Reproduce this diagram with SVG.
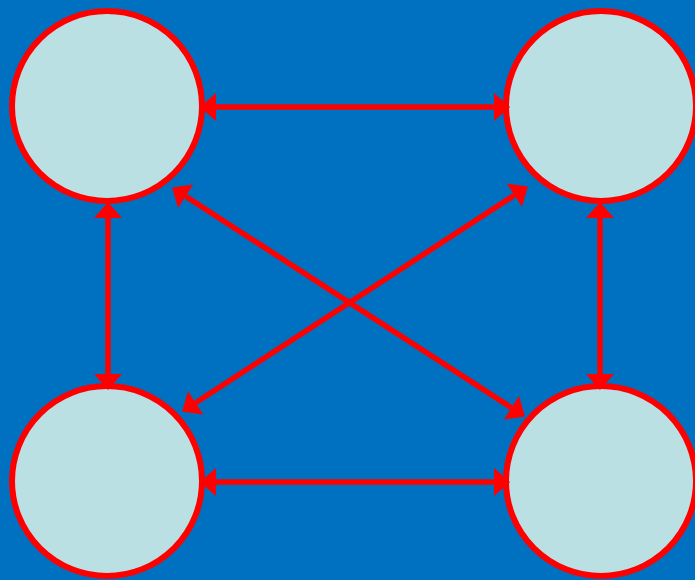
<svg xmlns="http://www.w3.org/2000/svg" width="695" height="580" viewBox="0 0 695 580">
<style>
.node{fill:#BAE0E3;stroke:#FF0000;stroke-width:6}
.conn{stroke:#FF0000;stroke-width:5.5;fill:none;marker-start:url(#ah);marker-end:url(#ah)}
</style>
<defs>
<marker id="ah" markerUnits="userSpaceOnUse" markerWidth="30" markerHeight="30" viewBox="0 -14 16 28" refX="0" refY="0" orient="auto-start-reverse">
<path d="M0,-13 L15,0 L0,13 z" fill="#FF0000"/>
</marker>
</defs>
<rect width="695" height="580" fill="#0070C0"/>
<g id="n1"><circle class="node" cx="107" cy="106" r="95"/></g>
<g id="n2"><circle class="node" cx="601" cy="106" r="95"/></g>
<g id="n3"><circle class="node" cx="107" cy="481" r="95"/></g>
<g id="n4"><circle class="node" cx="601" cy="481" r="95"/></g>
<g id="connectors">
<line class="conn" x1="216" y1="107" x2="494" y2="107"/>
<line class="conn" x1="216" y1="482" x2="494" y2="482"/>
<line class="conn" x1="108" y1="218" x2="108" y2="374"/>
<line class="conn" x1="600" y1="218" x2="600" y2="374"/>
<line class="conn" x1="185.6" y1="196.2" x2="511.4" y2="407.8"/>
<line class="conn" x1="514.4" y1="195.2" x2="195.6" y2="402.8"/>
</g>
</svg>
